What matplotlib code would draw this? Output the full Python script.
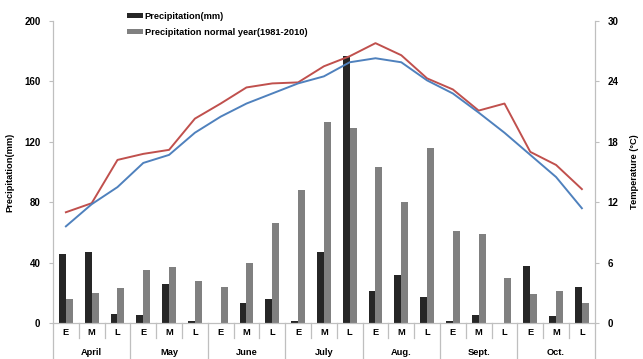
import numpy as np
import matplotlib.pyplot as plt
from matplotlib.transforms import blended_transform_factory

plt.rcParams['font.family'] = ['Liberation Sans', 'DejaVu Sans']
plt.rcParams['font.weight'] = 'bold'

months = ['April', 'May', 'June', 'July', 'Aug.', 'Sept.', 'Oct.']
dekads = ['E', 'M', 'L']

# precipitation per ten-day period (mm)
precip = [46, 47, 6, 5, 26, 1, 0, 13, 16, 1, 47, 177,
          21, 32, 17, 1.5, 5, 0, 38, 4.5, 24]
precip_normal = [16, 20, 23, 35, 37, 28, 24, 40, 66, 88, 133, 129,
                 103, 80, 116, 61, 59, 30, 19, 21, 13]

# mean temperature (°C)
temp = [11.0, 11.9, 16.2, 16.8, 17.2, 20.3, 21.8, 23.4, 23.8, 23.9, 25.5, 26.5,
        27.8, 26.6, 24.3, 23.2, 21.1, 21.8, 17.0, 15.7, 13.3]
temp_normal = [9.6, 11.8, 13.5, 15.9, 16.7, 18.9, 20.5, 21.8, 22.8, 23.8, 24.5, 25.9,
               26.3, 25.9, 24.1, 22.8, 20.9, 18.9, 16.7, 14.5, 11.4]

n = len(precip)
x = np.arange(n)
w = 0.27
grid_c = '#BFBFBF'
fs = 6.7

fig = plt.figure(figsize=(6.43, 3.59), dpi=100)
ax = fig.add_axes([0.0824, 0.1003, 0.925 - 0.0824, 0.9415 - 0.1003])
ax2 = ax.twinx()

b1 = ax.bar(x - w / 2, precip, w, color='#262626', label='Precipitation(mm)')
b2 = ax.bar(x + w / 2, precip_normal, w, color='#808080',
            label='Precipitation normal year(1981-2010)')

ax2.plot(x, temp, color='#C0504D', lw=1.4)
ax2.plot(x, temp_normal, color='#4F81BD', lw=1.4)

ax.set_xlim(-0.5, n - 0.5)
ax.set_ylim(0, 200)
ax.set_yticks(range(0, 201, 40))
ax2.set_ylim(0, 30)
ax2.set_yticks(range(0, 31, 6))

for a in (ax, ax2):
    a.spines['top'].set_visible(False)
    for s in ('left', 'right', 'bottom'):
        a.spines[s].set_color(grid_c)
    a.tick_params(axis='y', colors=grid_c, labelcolor='black', length=3,
                  labelsize=7, pad=6)
    for lab in a.get_yticklabels():
        lab.set_fontweight('bold')
ax.set_xticks([])
ax2.set_xticks([])

ax.set_ylabel('Precipitation(mm)', fontsize=fs, fontweight='bold')
ax.yaxis.set_label_coords(-0.072, 0.5)
ax2.set_ylabel('Temperature (°C)', fontsize=fs, fontweight='bold', rotation=90)
ax2.yaxis.set_label_coords(1.065, 0.5)

# two-level category axis
trans = blended_transform_factory(ax.transData, ax.transAxes)
for i in range(n):
    ax.text(i, -0.033, dekads[i % 3], transform=trans, ha='center', va='center',
            fontsize=fs, fontweight='bold')
for i in range(n + 1):
    y_end = -0.125 if i % 3 == 0 else -0.05
    ax.plot([i - 0.5, i - 0.5], [0, y_end], transform=trans, color=grid_c,
            lw=0.9, clip_on=False)
for k, m in enumerate(months):
    ax.text(3 * k + 1, -0.099, m, transform=trans, ha='center', va='center',
            fontsize=fs, fontweight='bold')

fig.legend(handles=[b1, b2], loc='upper left', bbox_to_anchor=(0.188, 0.985),
           frameon=False, fontsize=fs, handlelength=1.7, handleheight=0.5,
           handletextpad=0.15, labelspacing=0.75, borderpad=0.2)

fig.savefig('out.png', dpi=100)
